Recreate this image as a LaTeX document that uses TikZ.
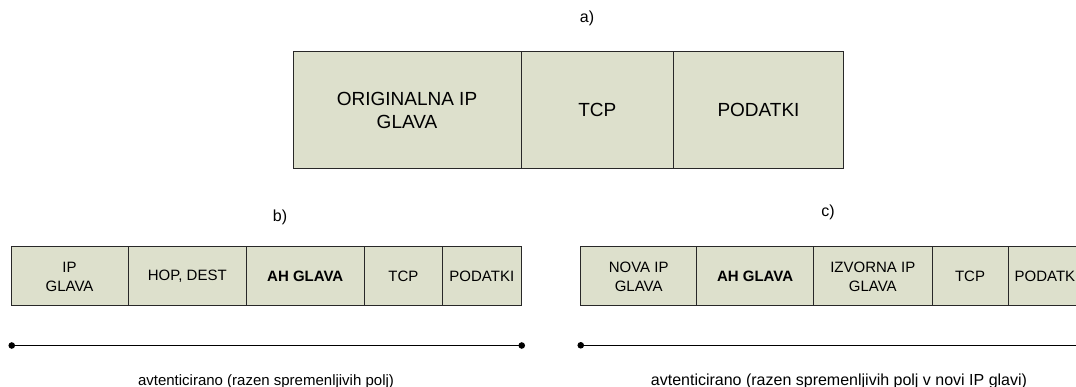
\documentclass[tikz,border=0pt]{standalone}
\usepackage{fontspec}
\setmainfont{Liberation Sans}
\usetikzlibrary{arrows.meta}
\definecolor{cellfill}{RGB}{221,224,204}
\definecolor{cellline}{RGB}{40,40,40}

\begin{document}
\begin{tikzpicture}[x=1pt,y=-1pt,
  cell/.style={draw=cellline, fill=cellfill, line width=1pt, inner sep=0pt, align=center},
  bigcell/.style={cell, minimum height=117.3pt, font=\fontsize{19}{22.7}\selectfont},
  smallcell/.style={cell, minimum height=59pt, font=\fontsize{15}{19}\selectfont},
  tag/.style={font=\fontsize{16}{19}\selectfont},
  note/.style={font=\fontsize{15}{18}\selectfont, anchor=base},
  span/.style={line width=1.1pt, {Circle[length=6.5pt]}-{Circle[length=6.5pt]}}]
\useasboundingbox (0,0) rectangle (1076,387);
\clip (0,0) rectangle (1076,387);

% a) original packet
\node[tag] (la) at (587,18) {a)};
\node[bigcell, minimum width=228pt]   (a1) at (407,110.35)  {ORIGINALNA IP\\GLAVA};
\node[bigcell, minimum width=152.7pt] (a2) at (597.35,110.35) {TCP};
\node[bigcell, minimum width=169.6pt] (a3) at (758.5,110.35) {PODATKI};

% b) transport mode
\node[tag] (lb) at (280,217) {b)};
\node[smallcell, minimum width=117pt]   (b1) at (69.5,276.5)   {IP\\GLAVA};
\node[smallcell, minimum width=118.5pt] (b2) at (187.25,276.5) {HOP, DEST};
\node[smallcell, minimum width=117.5pt] (b3) at (305.25,276.5) {\textbf{AH GLAVA}};
\node[smallcell, minimum width=78.7pt]  (b4) at (403.35,276.5) {TCP};
\node[smallcell, minimum width=78.3pt]  (b5) at (481.85,276.5) {PODATKI};

\coordinate (bl) at (8.5,345.5);
\coordinate (br) at (525,345.5);
\draw[span] (bl) -- (br);
\node[note] (nb) at (266,385) {avtenticirano (razen spremenljivih polj)};

% c) tunnel mode
\node[tag] (lc) at (828,212) {c)};
\node[smallcell, minimum width=116pt]   (c1) at (638.7,276.5)  {NOVA IP\\GLAVA};
\node[smallcell, minimum width=116.8pt] (c2) at (755.1,276.5)  {\textbf{AH GLAVA}};
\node[smallcell, minimum width=118.5pt] (c3) at (872.75,276.5) {IZVORNA IP\\GLAVA};
\node[smallcell, minimum width=76pt]    (c4) at (970,276.5)    {TCP};
\node[smallcell, minimum width=78pt]    (c5) at (1047,276.5)   {PODATKI};

\coordinate (cl) at (577.5,345.3);
\coordinate (cr) at (1092,345.3);
\draw[span] (cl) -- (cr);
\node[note, font=\fontsize{16}{19}\selectfont] (nc) at (839,385) {avtenticirano (razen spremenljivih polj v novi IP glavi)};
\end{tikzpicture}
\end{document}
